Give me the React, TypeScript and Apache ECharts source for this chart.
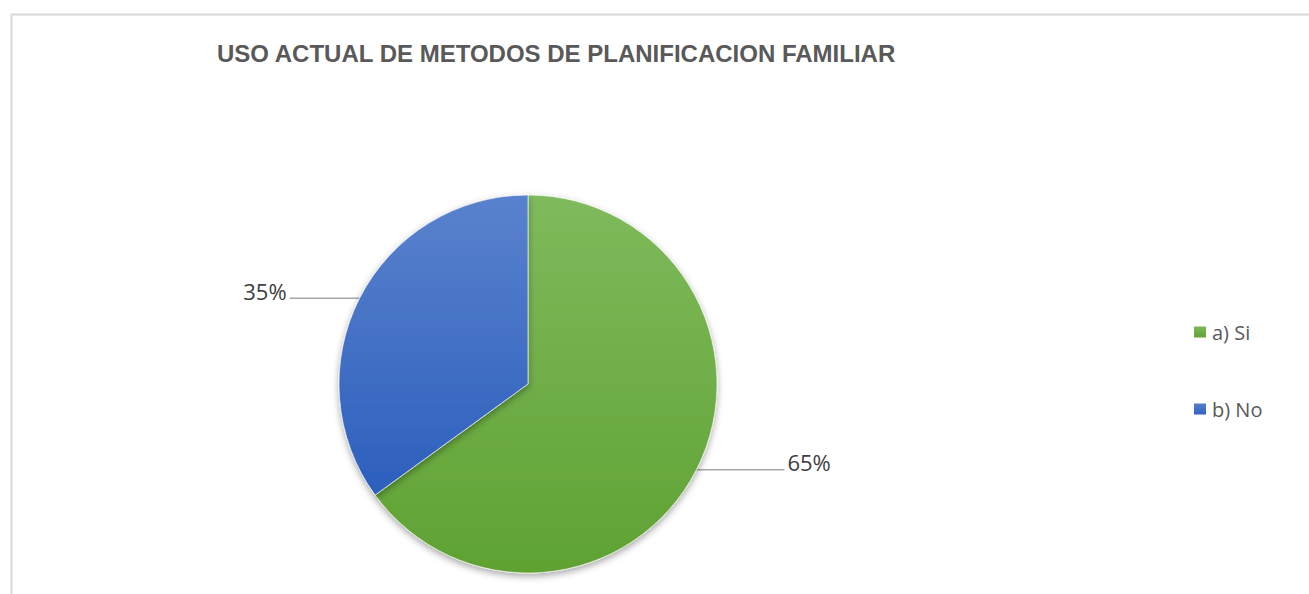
import React, { useEffect, useRef } from "react";
import * as echarts from "echarts";

const titleText = "USO ACTUAL DE METODOS DE PLANIFICACION FAMILIAR";
const categories = ["a) Si", "b) No"];
const percentages = [65, 35];
const topColors = ["#7fba5c", "#5a82cd"];
const bottomColors = ["#5fa232", "#2c5fbd"];
const lineLengths = [88, 70];

export default function App() {
  const ref = useRef<HTMLDivElement>(null);
  useEffect(() => {
    if (!ref.current) return;
    const chart = echarts.init(ref.current, null, { renderer: "svg" });
    const data = categories.map((name, i) => ({
      name,
      value: percentages[i],
      itemStyle: {
        color: new echarts.graphic.LinearGradient(0, 0, 0, 1, [
          { offset: 0, color: topColors[i] },
          { offset: 1, color: bottomColors[i] },
        ]),
      },
      labelLine: { length: 0, length2: lineLengths[i] },
    }));
    chart.setOption({
      animation: false,
      backgroundColor: "#ffffff",
      title: {
        text: titleText,
        left: 212,
        top: 36,
        textStyle: {
          fontFamily: "Liberation Sans, Arial, sans-serif",
          fontSize: 24,
          fontWeight: "bold",
          color: "#595959",
        },
      },
      legend: {
        orient: "vertical",
        left: 1187,
        top: 317,
        itemWidth: 14,
        itemHeight: 13,
        itemGap: 57,
        icon: "rect",
        textStyle: {
          fontFamily: "Open Sans, Noto Sans, sans-serif",
          fontSize: 20,
          color: "#595959",
        },
        data: categories,
      },
      graphic: [
        {
          type: "rect",
          shape: { x: 11.5, y: 14.5, width: 1400, height: 700 },
          style: { fill: "none", stroke: "#d9d9d9", lineWidth: 2 },
          silent: true,
        },
      ],
      series: [
        {
          type: "pie",
          center: [528, 384],
          radius: 189,
          startAngle: 90,
          clockwise: true,
          data,
          itemStyle: {
            borderColor: "#ffffff",
            borderWidth: 0.6,
            shadowBlur: 7,
            shadowOffsetY: 3,
            shadowColor: "rgba(0,0,0,0.35)",
          },
          label: {
            show: true,
            position: "outside",
            formatter: "{d}%\n ",
            fontFamily: "Open Sans, Noto Sans, sans-serif",
            fontSize: 22,
            lineHeight: 15,
            color: "#404040",
            distanceToLabelLine: 3,
          },
          labelLine: {
            show: true,
            lineStyle: { color: "#a6a6a6", width: 1.5 },
          },
          emphasis: { disabled: true },
        },
      ],
    });
    return () => chart.dispose();
  }, []);
  return (
    <div
      ref={ref}
      style={{ position: "fixed", left: 0, top: 0, width: 1309, height: 594 }}
    />
  );
}
